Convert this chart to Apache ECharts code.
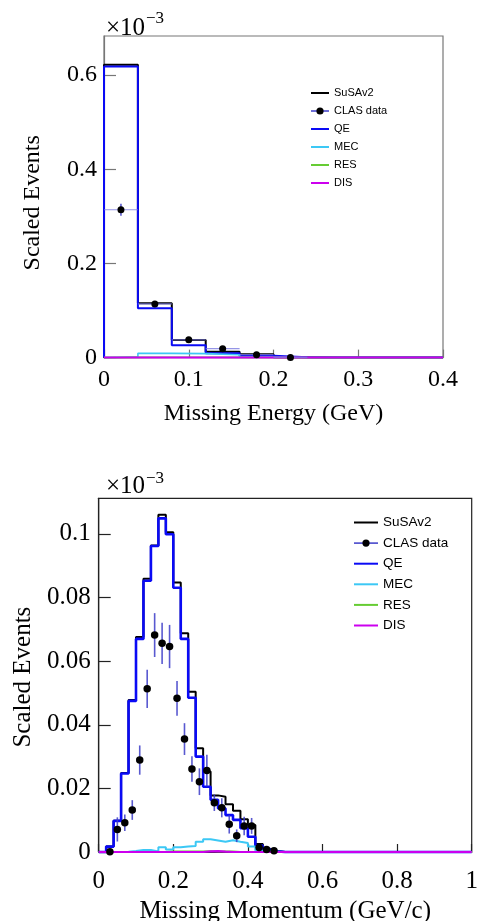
<!DOCTYPE html>
<html>
<head>
<meta charset="utf-8">
<script src="https://cdn.jsdelivr.net/npm/echarts@6/dist/echarts.min.js"></script>
<style>
  html, body { margin: 0; padding: 0; background: #fff; }
  #chart { width: 479px; height: 921px; }
</style>
</head>
<body>
<div id="chart"></div>
<script>
// ---- Missing energy histograms (units of 1e-3), bin edges in GeV ----
const energyEdges   = [0, 0.04, 0.08, 0.12, 0.16, 0.20, 0.24, 0.28, 0.32, 0.36, 0.40];
const energySusav2  = [0.622, 0.1153, 0.0374, 0.0125, 0.0070, 0.0010, 0, 0, 0, 0];
const energyQE      = [0.618, 0.1050, 0.0261, 0.0091, 0.0040, 0.0006, 0, 0, 0, 0];
const energyMEC     = [0.0015, 0.0090, 0.0085, 0.0060, 0.0012, 0.0002, 0, 0, 0, 0];
const energyRES     = [0.0004, 0.0008, 0.0008, 0.0004, 0.0002, 0, 0, 0, 0, 0];
const energyDIS     = [0, 0, 0, 0, 0, 0, 0, 0, 0, 0];
// CLAS data points: bin centre, value, error
const energyDataX   = [0.02, 0.06, 0.10, 0.14, 0.18, 0.22];
const energyDataY   = [0.314, 0.114, 0.0377, 0.0189, 0.0062, 0.0003];
const energyDataErr = [0.013, 0.004, 0.003, 0.002, 0.0015, 0.0005];
const energyHalfBin = 0.02;

// ---- Missing momentum histograms (units of 1e-3), bin edges in GeV/c ----
const momentumEdges = [0, 0.02, 0.04, 0.06, 0.08, 0.10, 0.12, 0.14, 0.16, 0.18,
                       0.20, 0.22, 0.24, 0.26, 0.28, 0.30, 0.32, 0.34, 0.36, 0.38,
                       0.40, 0.42, 0.44, 0.46, 0.48, 0.50, 0.52, 0.54, 0.56, 0.58,
                       0.60, 0.62, 0.64, 0.66, 0.68, 0.70, 0.72, 0.74, 0.76, 0.78,
                       0.80, 0.82, 0.84, 0.86, 0.88, 0.90, 0.92, 0.94, 0.96, 0.98, 1.00];
const momentumSusav2 = [0, 0.0017, 0.0098, 0.0248, 0.0478, 0.0676, 0.0859, 0.0964, 0.1060, 0.1005,
                        0.0847, 0.0688, 0.0504, 0.0326, 0.0253, 0.0178, 0.0174, 0.0150, 0.0130, 0.0103,
                        0.0085, 0.0025, 0.0010, 0.0003, 0, 0, 0, 0, 0, 0,
                        0, 0, 0, 0, 0, 0, 0, 0, 0, 0,
                        0, 0, 0, 0, 0, 0, 0, 0, 0, 0];
const momentumQE     = [0, 0.0017, 0.0098, 0.0247, 0.0475, 0.0670, 0.0853, 0.0962, 0.1049, 0.0999,
                        0.0831, 0.0670, 0.0485, 0.0300, 0.0205, 0.0164, 0.0137, 0.0116, 0.0101, 0.0075,
                        0.0048, 0.0020, 0.0008, 0.0002, 0, 0, 0, 0, 0, 0,
                        0, 0, 0, 0, 0, 0, 0, 0, 0, 0,
                        0, 0, 0, 0, 0, 0, 0, 0, 0, 0];
const momentumMEC    = [0, 0, 0, 0.0001, 0.0003, 0.0006, 0.0006, 0.0002, 0.0015, 0.0008,
                        0.0015, 0.0017, 0.0019, 0.0032, 0.0040, 0.0036, 0.0032, 0.0037, 0.0032, 0.0028,
                        0.0017, 0.0005, 0.0002, 0.0001, 0, 0, 0, 0, 0, 0,
                        0, 0, 0, 0, 0, 0, 0, 0, 0, 0,
                        0, 0, 0, 0, 0, 0, 0, 0, 0, 0];
const momentumRES    = [0, 0, 0, 0, 0, 0, 0, 0, 0.0001, 0.0002,
                        0.0002, 0.0002, 0.0002, 0.0002, 0.0003, 0.0002, 0.0002, 0.0002, 0.0001, 0.0001,
                        0.0001, 0, 0, 0, 0, 0, 0, 0, 0, 0,
                        0, 0, 0, 0, 0, 0, 0, 0, 0, 0,
                        0, 0, 0, 0, 0, 0, 0, 0, 0, 0];
const momentumDIS    = [0, 0, 0, 0, 0, 0, 0, 0, 0, 0,
                        0, 0, 0, 0, 0.0002, 0.0003, 0.0001, 0, 0, 0,
                        0, 0, 0, 0, 0, 0, 0, 0, 0, 0,
                        0, 0, 0, 0, 0, 0, 0, 0, 0, 0,
                        0, 0, 0, 0, 0, 0, 0, 0, 0, 0];
const momentumDataX   = [0.03, 0.05, 0.07, 0.09, 0.11, 0.13, 0.15, 0.17, 0.19, 0.21, 0.23, 0.25,
                         0.27, 0.29, 0.31, 0.33, 0.35, 0.37, 0.39, 0.41, 0.43, 0.45, 0.47];
const momentumDataY   = [0.0001, 0.0071, 0.0092, 0.0132, 0.0289, 0.0513, 0.0682, 0.0656, 0.0646, 0.0483, 0.0355, 0.0261,
                         0.0221, 0.0256, 0.0155, 0.0139, 0.0087, 0.0051, 0.0082, 0.0082, 0.0014, 0.0008, 0.0004];
const momentumDataErr = [0.0005, 0.0038, 0.0026, 0.0031, 0.0046, 0.0060, 0.0069, 0.0065, 0.0068, 0.0055, 0.0050, 0.0040,
                         0.0042, 0.0050, 0.0026, 0.0030, 0.0029, 0.0020, 0.0029, 0.0025, 0.0008, 0.0005, 0.0004];

// Axis ranges and tick steps
const energyXRange   = [0, 0.4, 0.1];
const energyYRange   = [0, 0.683, 0.2];
const momentumXRange = [0, 1, 0.2];
const momentumYRange = [0, 0.1112, 0.02];

const legendNames = ['SuSAv2', 'CLAS data', 'QE', 'MEC', 'RES', 'DIS'];

const COLORS = { SuSAv2: '#000000', QE: '#0a0af5', MEC: '#3cc8f5', RES: '#66cc33', DIS: '#cc00ee', err: '#3c3cc8' };
const SERIF = '"Liberation Serif", "Times New Roman", serif';
const SANS = '"Liberation Sans", Arial, sans-serif';

// Turn per-bin contents into a stepped outline starting from zero
function stepData(edges, values) {
  const pts = [[edges[0], 0]];
  values.forEach((v, i) => pts.push([edges[i], v]));
  pts.push([edges[edges.length - 1], values[values.length - 1]]);
  return pts;
}

function histSeries(name, edges, values, idx, width) {
  return {
    name: name, type: 'line', step: 'end',
    xAxisIndex: idx, yAxisIndex: idx,
    data: stepData(edges, values),
    symbol: 'none', clip: false,
    lineStyle: { color: COLORS[name], width: width },
    itemStyle: { color: COLORS[name] },
    emphasis: { disabled: true },
    silent: true
  };
}

function errorSeries(xs, ys, errs, halfBin, idx) {
  return {
    type: 'custom', xAxisIndex: idx, yAxisIndex: idx, silent: true,
    data: xs.map((x, i) => [x, ys[i], errs[i]]),
    encode: { x: 0, y: 1 },
    renderItem: function (params, api) {
      const x = api.value(0), y = api.value(1), e = api.value(2);
      const lo = api.coord([x, y - e]), hi = api.coord([x, y + e]);
      const children = [{
        type: 'line',
        shape: { x1: lo[0], y1: lo[1], x2: hi[0], y2: hi[1] },
        style: { stroke: COLORS.err, lineWidth: 1.6, opacity: 0.85 }
      }];
      if (halfBin) {
        const l = api.coord([x - halfBin, y]), r = api.coord([x + halfBin, y]);
        children.push({
          type: 'line',
          shape: { x1: l[0], y1: l[1], x2: r[0], y2: r[1] },
          style: { stroke: '#7a7ae0', lineWidth: 1.2, opacity: 0.8 }
        });
      }
      return { type: 'group', children: children };
    },
    z: 5
  };
}

function dataSeries(xs, ys, idx, size) {
  return {
    name: 'CLAS data', type: 'line',
    xAxisIndex: idx, yAxisIndex: idx,
    data: xs.map((x, i) => [x, ys[i]]),
    symbol: 'circle', symbolSize: size, showSymbol: true, showAllSymbol: true,
    clip: false,
    lineStyle: { width: 0, opacity: 0, color: COLORS.err },
    itemStyle: { color: '#000' },
    emphasis: { disabled: true }, silent: true, z: 6
  };
}

function fmt(v) { return String(+(+v).toFixed(3)); }

function valueAxisX(range, gridIndex, name, lineColor, fontSize, labelMargin, nameGap) {
  return {
    type: 'value', gridIndex: gridIndex, min: range[0], max: range[1], interval: range[2],
    name: name, nameLocation: 'middle', nameGap: nameGap,
    nameTextStyle: { fontFamily: SERIF, fontSize: fontSize, color: '#000' },
    axisLine: { show: true, lineStyle: { color: lineColor, width: 1.2 } },
    axisTick: { show: true, inside: true, length: 8, lineStyle: { color: lineColor, width: 1.2 } },
    axisLabel: { margin: labelMargin, fontFamily: SERIF, fontSize: fontSize, color: '#000', formatter: fmt },
    splitLine: { show: false }
  };
}

function valueAxisY(range, gridIndex, lineColor, fontSize, labelMargin, nameGap, namePad) {
  return {
    type: 'value', gridIndex: gridIndex, min: range[0], max: range[1], interval: range[2],
    name: 'Scaled Events', nameLocation: 'middle', nameGap: nameGap,
    nameTextStyle: { fontFamily: SERIF, fontSize: fontSize, color: '#000', padding: namePad },
    axisLine: { show: true, lineStyle: { color: lineColor, width: 1.2 } },
    axisTick: { show: true, inside: true, length: 12, lineStyle: { color: lineColor, width: 1.2 } },
    axisLabel: { margin: labelMargin, fontFamily: SERIF, fontSize: fontSize, color: '#000', formatter: fmt, showMaxLabel: false },
    splitLine: { show: false }
  };
}

function legendBlock(left, top, itemWidth, gap, fontSize) {
  return {
    orient: 'vertical', left: left, top: top, padding: 0,
    itemWidth: itemWidth, itemHeight: 9, itemGap: gap,
    selectedMode: false,
    textStyle: { fontFamily: SANS, fontSize: fontSize, color: '#000' },
    data: legendNames.map(n => n === 'CLAS data'
      ? { name: n, lineStyle: { opacity: 1, width: 1.5, color: COLORS.err }, itemStyle: { color: '#000' } }
      : { name: n, lineStyle: { width: 2 }, itemStyle: { opacity: 0 } })
  };
}

const chart = echarts.init(document.getElementById('chart'), null, { renderer: 'canvas' });

chart.setOption({
  animation: false,
  backgroundColor: '#fff',
  grid: [
    { left: 104, top: 36, width: 339, height: 321.6, show: true, borderColor: '#777', borderWidth: 1.2,
      containLabel: false, outerBoundsMode: 'none' },
    { left: 98.7, top: 498.3, width: 373, height: 353.7, show: true, borderColor: '#222', borderWidth: 1.2,
      containLabel: false, outerBoundsMode: 'none' }
  ],
  xAxis: [
    valueAxisX(energyXRange, 0, 'Missing Energy (GeV)', '#777', 24, 10.5, 44.5),
    valueAxisX(momentumXRange, 1, 'Missing Momentum (GeV/c)', '#222', 25, 17, 47)
  ],
  yAxis: [
    valueAxisY(energyYRange, 0, '#777', 24, 7, 59, [0, 12, 0, 0]),
    valueAxisY(momentumYRange, 1, '#222', 25, 8, 56.5, [0, 4, 0, 0])
  ],
  legend: [
    legendBlock(310, 87.5, 18, 7, 11),
    legendBlock(353, 515.5, 24, 6.6, 13.5)
  ],
  graphic: [
    { type: 'text', style: { x: 106, y: 28, text: '×10', font: '25px ' + SERIF, fill: '#000', verticalAlign: 'middle' } },
    { type: 'text', style: { x: 146, y: 19, text: '−3', font: '17px ' + SERIF, fill: '#000', verticalAlign: 'middle' } },
    { type: 'text', style: { x: 106, y: 486, text: '×10', font: '25px ' + SERIF, fill: '#000', verticalAlign: 'middle' } },
    { type: 'text', style: { x: 146, y: 478.5, text: '−3', font: '17px ' + SERIF, fill: '#000', verticalAlign: 'middle' } }
  ],
  series: [
    histSeries('SuSAv2', energyEdges, energySusav2, 0, 2),
    histSeries('QE', energyEdges, energyQE, 0, 2),
    histSeries('MEC', energyEdges, energyMEC, 0, 1.6),
    histSeries('RES', energyEdges, energyRES, 0, 1.6),
    histSeries('DIS', energyEdges, energyDIS, 0, 2),
    errorSeries(energyDataX, energyDataY, energyDataErr, energyHalfBin, 0),
    dataSeries(energyDataX, energyDataY, 0, 7),

    histSeries('SuSAv2', momentumEdges, momentumSusav2, 1, 2),
    histSeries('QE', momentumEdges, momentumQE, 1, 2.6),
    histSeries('MEC', momentumEdges, momentumMEC, 1, 2),
    histSeries('RES', momentumEdges, momentumRES, 1, 1.6),
    histSeries('DIS', momentumEdges, momentumDIS, 1, 2.2),
    errorSeries(momentumDataX, momentumDataY, momentumDataErr, 0, 1),
    dataSeries(momentumDataX, momentumDataY, 1, 7.5)
  ]
});
</script>
</body>
</html>
